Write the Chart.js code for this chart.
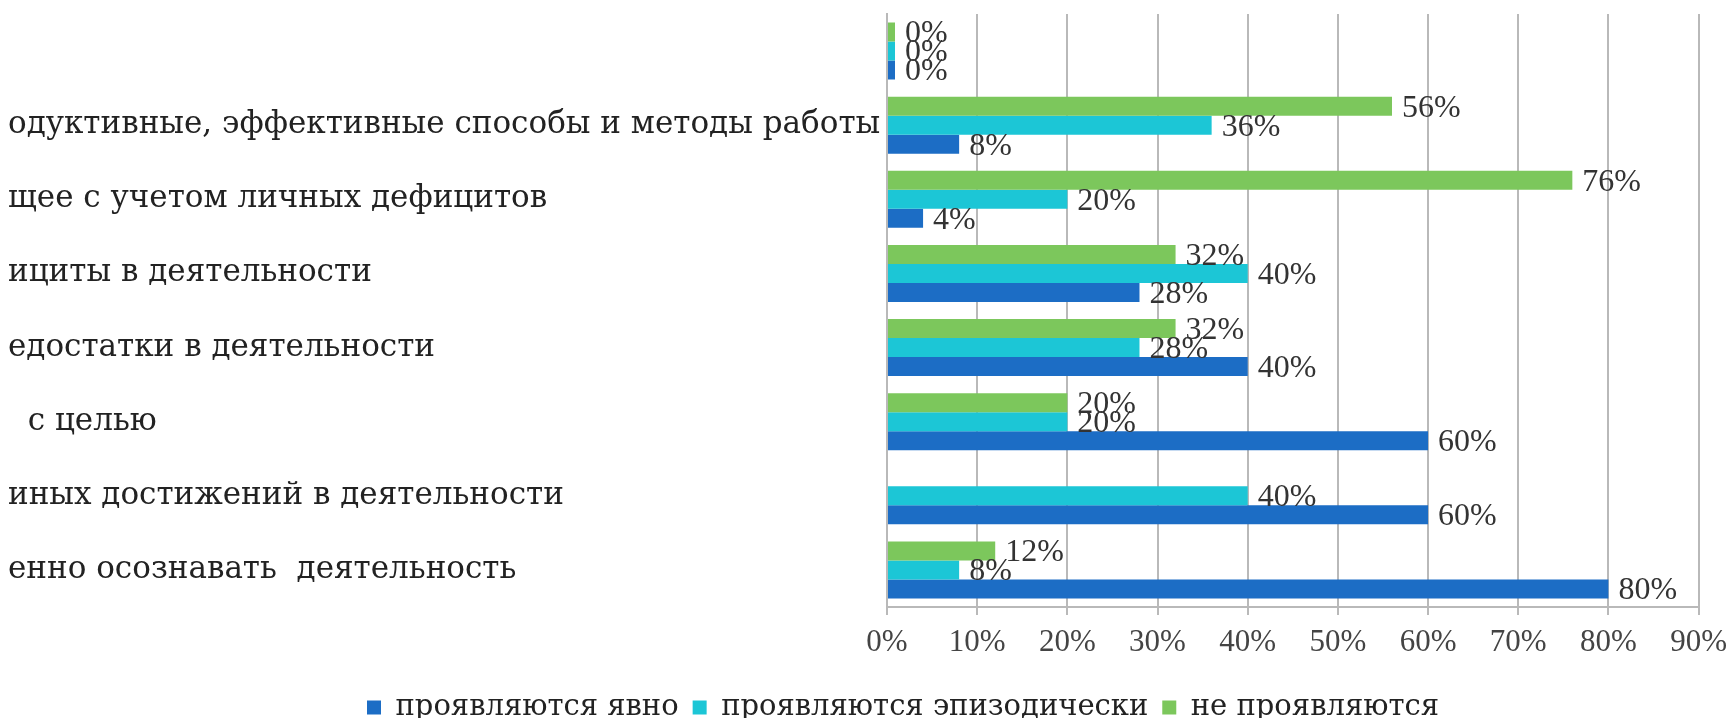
<!DOCTYPE html>
<html>
<head>
<meta charset="utf-8">
<script src="https://cdn.jsdelivr.net/npm/chart.js@4"></script>
<style>
  html, body { margin: 0; padding: 0; background: #fff; overflow: hidden; }
  #wrap { width: 1736px; height: 732px; }
  .preload { position: absolute; left: -9999px; font-family: 'Liberation Serif'; }
  .preload2 { position: absolute; left: -9999px; font-family: 'DejaVu Serif'; }
</style>
</head>
<body>
<span class="preload">0%</span><span class="preload2">а</span>
<div id="wrap"><canvas id="myChart" width="1736" height="732"></canvas></div>
<script>
// categories, top to bottom (left side of the labels is cropped in the source)
const categories = [
  "",
  "одуктивные, эффективные способы и методы работы",
  "щее с учетом личных дефицитов",
  "ициты в деятельности",
  "едостатки в деятельности",
  "  с целью",
  "иных достижений в деятельности",
  "енно осознавать  деятельность"
];
const seriesNames = ["проявляются явно", "проявляются эпизодически", "не проявляются"];
const clearly = [0, 8, 4, 28, 40, 60, 60, 80];
const episodic = [0, 36, 20, 40, 28, 20, 40, 8];
const notShown = [0, 56, 76, 32, 32, 20, null, 12];
const xTicks = [0, 10, 20, 30, 40, 50, 60, 70, 80, 90];

const BLUE = "#1c6dc5";
const CYAN = "#1cc6d6";
const GREEN = "#7cc75c";
const NUM_FONT = "'Liberation Serif', 'Times New Roman', serif";
const TXT_FONT = "'DejaVu Serif', serif";

// value labels at the end of each bar
const barLabels = {
  id: "barLabels",
  afterLayout(chart) {
    // legend sits a bit right of centre in the source
    chart.legend.left += 96;
  },
  afterDatasetsDraw(chart) {
    const ctx = chart.ctx;
    ctx.save();
    ctx.font = "32px " + NUM_FONT;
    ctx.fillStyle = "#333";
    ctx.textAlign = "left";
    ctx.textBaseline = "middle";
    chart.data.datasets.forEach(function (ds, i) {
      const meta = chart.getDatasetMeta(i);
      meta.data.forEach(function (bar, j) {
        const v = ds.data[j];
        if (v === null || v === undefined) return;
        ctx.fillText(v + "%", bar.x + 10, bar.y + 2);
      });
    });
    ctx.restore();
  }
};

const ctx = document.getElementById("myChart").getContext("2d");
const chart = new Chart(ctx, {
  type: "bar",
  data: {
    labels: categories,
    datasets: [
      { label: seriesNames[2], data: notShown, backgroundColor: GREEN },
      { label: seriesNames[1], data: episodic, backgroundColor: CYAN },
      { label: seriesNames[0], data: clearly, backgroundColor: BLUE }
    ]
  },
  options: {
    indexAxis: "y",
    responsive: false,
    animation: false,
    layout: { padding: { left: 8, right: 34, top: 14, bottom: 0 } },
    datasets: {
      bar: { categoryPercentage: 0.77, barPercentage: 1.0, minBarLength: 8 }
    },
    plugins: {
      tooltip: { enabled: false },
      legend: {
        position: "bottom",
        reverse: true,
        labels: {
          boxWidth: 14,
          boxHeight: 14,
          padding: 14,
          color: "#222",
          font: { family: TXT_FONT, size: 29 }
        }
      }
    },
    scales: {
      x: {
        min: 0,
        max: 90,
        afterBuildTicks(scale) {
          scale.ticks = xTicks.map(v => ({ value: v }));
        },
        ticks: {
          callback: v => v + "%",
          color: "#444",
          padding: 9,
          font: { family: NUM_FONT, size: 31 }
        },
        grid: { color: "#b9b9b9", lineWidth: 2, tickLength: 8 },
        border: { color: "#b9b9b9", width: 2 },
        afterFit(scale) { scale.height = 72; }
      },
      y: {
        grid: { display: false },
        border: { color: "#b9b9b9", width: 2 },
        ticks: {
          crossAlign: "far",
          color: "#222",
          font: { family: TXT_FONT, size: 31 }
        },
        afterFit(scale) {
          scale.width = 879;
          scale.paddingTop = 0;
          scale.paddingBottom = 0;
        }
      }
    }
  },
  plugins: [barLabels]
});

if (document.fonts) {
  document.fonts.ready.then(function () { chart.update(); });
}
</script>
</body>
</html>
